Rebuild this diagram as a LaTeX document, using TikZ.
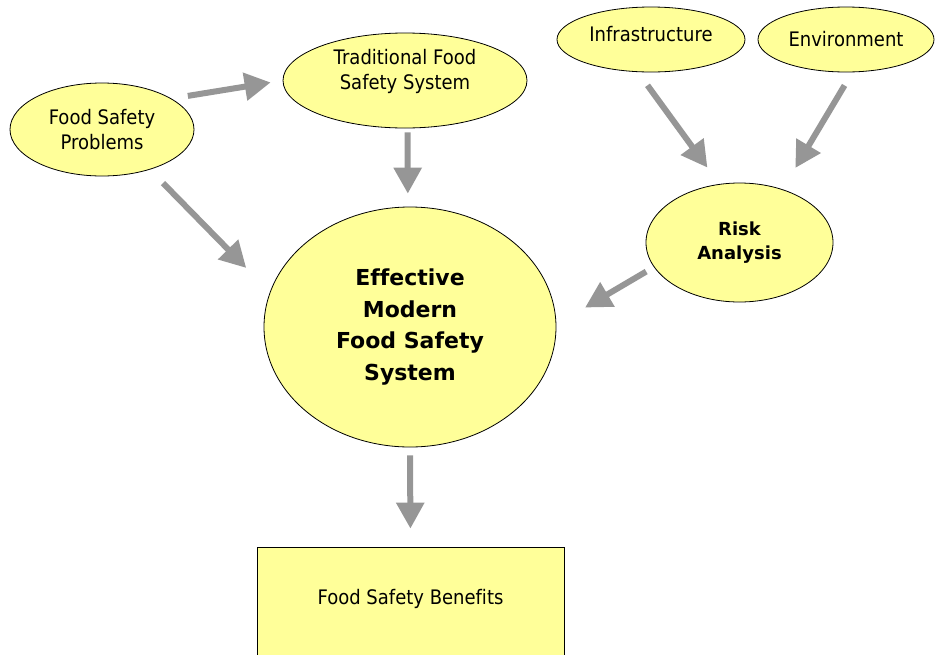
\documentclass[tikz,border=0pt]{standalone}
\usepackage{fontspec}
\setmainfont{DejaVu Sans}[Ligatures=CommonOff]
\newfontfamily\condfont{DejaVu Sans}[FakeStretch=0.9, Ligatures=CommonOff]
\usepackage{xcolor}
\usetikzlibrary{shapes.geometric, arrows.meta}
\definecolor{paleyellow}{HTML}{FFFF99}
\definecolor{arrowgray}{HTML}{969696}

\begin{document}
\begin{tikzpicture}[x=1pt, y=-1pt,
  bubble/.style={ellipse, draw=black, line width=0.8pt, fill=paleyellow, inner sep=0pt, align=center, font=\condfont\fontsize{20}{25}\selectfont},
  flow/.style={line width=6pt, draw=arrowgray, -{Triangle[width=27pt, length=26pt]}}]
\useasboundingbox (0,0) rectangle (935,654);
\node [bubble, minimum width=184pt, minimum height=93pt] (problems) at (102,129.5) {Food Safety\\Problems};
\node [bubble, minimum width=244pt, minimum height=95pt, text depth=21.7pt] (traditional) at (405,80.5) {Traditional Food\\Safety System};
\node [bubble, minimum width=188pt, minimum height=65pt, text depth=12pt] (infra) at (651,39.5) {Infrastructure};
\node [bubble, minimum width=176pt, minimum height=65pt] (environ) at (846,39.5) {Environment};
\node [bubble, minimum width=187pt, minimum height=119pt, font=\bfseries\fontsize{18}{24.3}\selectfont] (risk) at (739.5,242.5) {Risk\\Analysis};
\node [bubble, minimum width=292pt, minimum height=240pt, font=\bfseries\fontsize{22}{31.5}\selectfont] (modern) at (410,327) {Effective\\Modern\\Food Safety\\System};
\node [rectangle, draw=black, line width=0.8pt, fill=paleyellow, inner sep=0pt, minimum width=307pt, text height=57pt, text depth=66pt, anchor=base, font=\condfont\fontsize{20}{25}\selectfont] (benefits) at (410.5,604) {Food Safety Benefits};

\draw [flow, shorten <=16.6pt, shorten >=12.1pt] (problems.24) -- (traditional.180);
\draw [flow, shorten <=18.8pt, shorten >=33.8pt] (problems.-40.5) -- (modern.166.9);
\draw [flow, shorten <=4pt, shorten >=13pt] (traditional.-87) -- (modern.91);
\draw [flow, shorten <=16.4pt, shorten >=20.3pt] (infra.-112.9) -- (risk.109.5);
\draw [flow, shorten <=15.25pt, shorten >=24.8pt] (environ.-79.7) -- (risk.51.9);
\draw [flow, shorten <=8.9pt, shorten >=33.3pt] (risk.196.5) -- (modern.1.4);
\draw [flow, shorten <=8pt, shorten >=18pt] (modern.south) -- (benefits.north);
\end{tikzpicture}
\end{document}
